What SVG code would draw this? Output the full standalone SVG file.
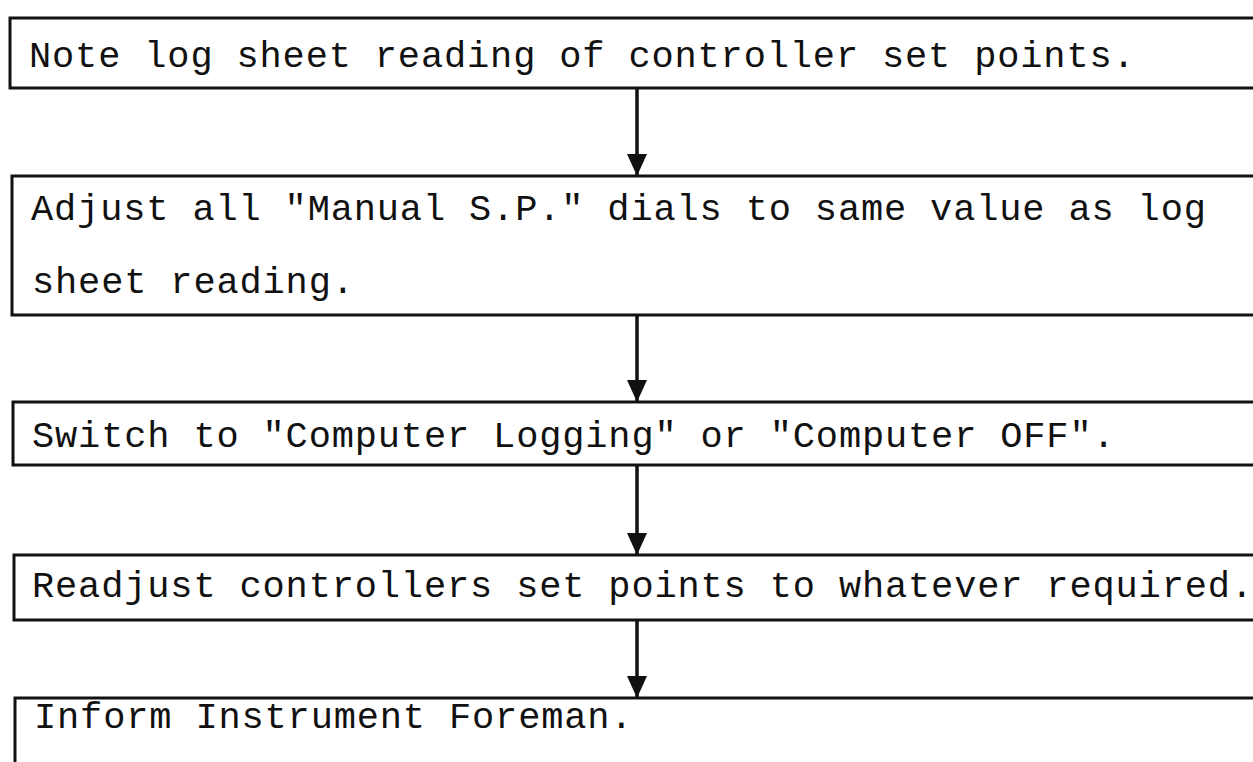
<svg xmlns="http://www.w3.org/2000/svg" width="1253" height="762" viewBox="0 0 1253 762">
<style>
  .box { fill: none; stroke: #111; stroke-width: 3; stroke-linejoin: miter; }
  .conn { stroke: #111; stroke-width: 3.5; fill: none; }
  text { font-family: "Liberation Mono", "Courier New", monospace; font-size: 37px; letter-spacing: 0.85px; fill: #111; }
</style>
<defs>
  <marker id="arrow" markerUnits="userSpaceOnUse" markerWidth="22" markerHeight="20" viewBox="0 0 22 20" refX="22" refY="10" orient="auto">
    <path d="M0,0 L22,10 L0,20 Z" fill="#111"/>
  </marker>
</defs>
<rect width="1253" height="762" fill="#fff"/>
<g id="node1">
  <path class="box" d="M1253,18 H10 V88 H1253"/>
  <text x="29" y="67">Note log sheet reading of controller set points.</text>
</g>
<g id="node2">
  <path class="box" d="M1253,176 H12 V315 H1253"/>
  <text x="31" y="220">Adjust all "Manual S.P." dials to same value as log</text>
  <text x="32" y="293">sheet reading.</text>
</g>
<g id="node3">
  <path class="box" d="M1253,402 H13 V465 H1253"/>
  <text x="32" y="447">Switch to "Computer Logging" or "Computer OFF".</text>
</g>
<g id="node4">
  <path class="box" d="M1253,555 H14 V620 H1253"/>
  <text x="32" y="597">Readjust controllers set points to whatever required.</text>
</g>
<g id="node5">
  <path class="box" d="M1253,698 H15 V762"/>
  <text x="34" y="728">Inform Instrument Foreman.</text>
</g>
<g id="connectors">
  <line class="conn" x1="637" y1="88" x2="637" y2="176" marker-end="url(#arrow)"/>
  <line class="conn" x1="637" y1="315" x2="637" y2="402" marker-end="url(#arrow)"/>
  <line class="conn" x1="637" y1="465" x2="637" y2="555" marker-end="url(#arrow)"/>
  <line class="conn" x1="637" y1="620" x2="637" y2="698" marker-end="url(#arrow)"/>
</g>
</svg>
